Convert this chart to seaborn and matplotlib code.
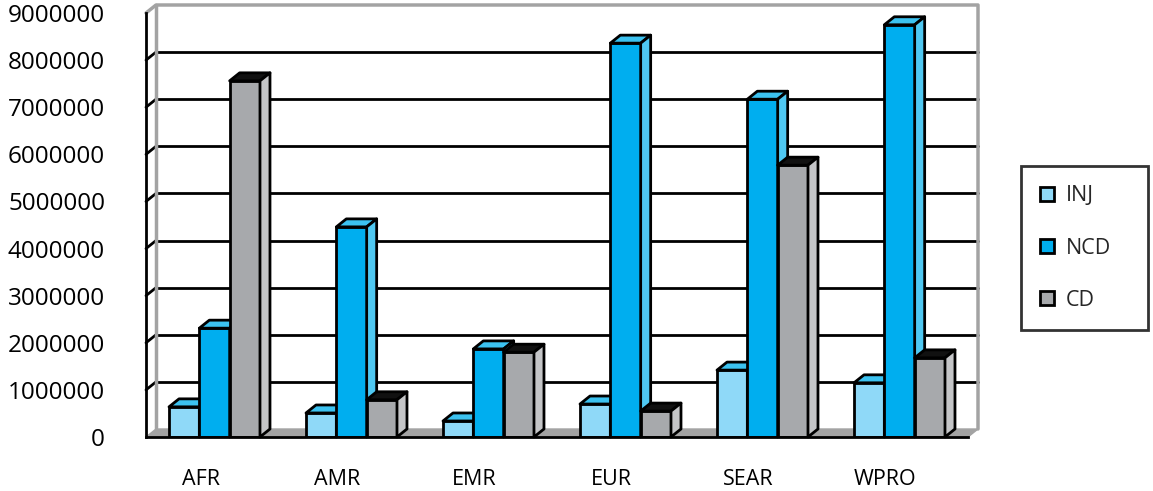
import matplotlib
matplotlib.use("Agg")
import matplotlib.pyplot as plt
import matplotlib.transforms as mtransforms
from matplotlib.patches import Patch, Polygon
import pandas as pd
import seaborn as sns


REGIONS = ["AFR", "AMR", "EMR", "EUR", "SEAR", "WPRO"]
SERIES = ["INJ", "NCD", "CD"]
INJ = [640000, 510000, 340000, 700000, 1420000, 1150000]
NCD = [2310000, 4460000, 1870000, 8360000, 7170000, 8750000]
CD = [7560000, 790000, 1800000, 550000, 5770000, 1680000]
Y_TICKS = list(range(0, 9000001, 1000000))

FRONT = {"INJ": "#8fd9f8", "NCD": "#00aeef", "CD": "#a7a9ac"}
TOP = {"INJ": "#3cc2f0", "NCD": "#3cc2f0", "CD": "#111111"}
SIDE = {"INJ": "#5ccdf4", "NCD": "#4fc8f2", "CD": "#c4c5c7"}
WALL = "#a3a3a3"
DEPTH_PX = (10, 8)  # 3d depth offset, right / up


def main() -> None:
    sns.set_style("white")
    plt.rcParams["font.family"] = ["Open Sans", "DejaVu Sans"]

    df = pd.DataFrame(
        {
            "region": REGIONS * 3,
            "cause": [s for s in SERIES for _ in REGIONS],
            "value": INJ + NCD + CD,
        }
    )

    fig = plt.figure(figsize=(11.53, 4.91), dpi=100)
    ax = fig.add_axes([146 / 1153, 1 - 437 / 491, 822 / 1153, 424 / 491])

    sns.barplot(
        data=df, x="region", y="value", hue="cause", hue_order=SERIES,
        palette=FRONT, width=0.664, saturation=1, edgecolor="black",
        linewidth=2, legend=False, ax=ax,
    )
    ax.set_xlim(-0.5, 5.5)
    ax.set_ylim(0, 9000000)

    # depth offset in data units
    p0 = ax.transData.transform((0, 0))
    p1 = ax.transData.transform((1, 1000000))
    ddx = DEPTH_PX[0] / (p1[0] - p0[0])
    ddy = DEPTH_PX[1] / (p1[1] - p0[1]) * 1000000

    # top and side faces of each bar
    for i, (name, container) in enumerate(zip(SERIES, ax.containers)):
        for bar in container:
            bar.set_zorder(4 + i)
            x0, x1 = bar.get_x(), bar.get_x() + bar.get_width()
            h = bar.get_height()
            top = Polygon(
                [(x0, h), (x0 + ddx, h + ddy), (x1 + ddx, h + ddy), (x1, h)],
                facecolor=TOP[name], edgecolor="black", linewidth=2,
                joinstyle="round", zorder=4 + i, clip_on=False,
            )
            side = Polygon(
                [(x1, 0), (x1, h), (x1 + ddx, h + ddy), (x1 + ddx, ddy)],
                facecolor=SIDE[name], edgecolor="black", linewidth=2,
                joinstyle="round", zorder=4 + i, clip_on=False,
            )
            ax.add_patch(top)
            ax.add_patch(side)

    # back wall, floor and gridlines
    xl, xr = -0.5, 5.5
    ax.add_patch(Polygon(
        [(xl, 0), (xr, 0), (xr + ddx, ddy), (xl + ddx, ddy)],
        facecolor=WALL, edgecolor=WALL, linewidth=1, zorder=1.5, clip_on=False,
    ))
    for y in Y_TICKS[1:-1]:
        ax.plot([xl + ddx, xr + ddx], [y + ddy, y + ddy], color="black", lw=2, zorder=1, clip_on=False)
        ax.plot([xl, xl + ddx], [y, y + ddy], color="black", lw=2, zorder=1, clip_on=False)
    ytop = Y_TICKS[-1]
    ax.plot([xl, xl + ddx, xr + ddx, xr + ddx], [ytop, ytop + ddy, ytop + ddy, ddy],
            color=WALL, lw=2.5, zorder=1, clip_on=False)
    ax.plot([xl + ddx, xl + ddx], [ddy, ytop + ddy], color=WALL, lw=2.5, zorder=1, clip_on=False)

    sns.despine(ax=ax)
    for side_name in ["left", "bottom"]:
        ax.spines[side_name].set_color("black")
        ax.spines[side_name].set_linewidth(2)
        ax.spines[side_name].set_zorder(10)

    ax.set_yticks(Y_TICKS)
    ax.set_yticklabels([str(v) for v in Y_TICKS])
    ax.tick_params(axis="y", length=6.5, width=2, color="black", pad=23, labelsize=17.5, labelcolor="black")

    ax.set_xticks(range(len(REGIONS)))
    ax.set_xticklabels(REGIONS)
    ax.set_xticks([i - 0.5 for i in range(len(REGIONS) + 1)], minor=True)
    ax.tick_params(axis="x", which="major", length=0, pad=23, labelsize=15.5, labelcolor="black")
    ax.tick_params(axis="x", which="minor", length=6, width=2, color="black", direction="out")
    shift = mtransforms.ScaledTranslation(-14 / 100, 0, fig.dpi_scale_trans)
    for lbl in ax.get_xticklabels():
        lbl.set_transform(lbl.get_transform() + shift)
    ax.set_xlabel("")
    ax.set_ylabel("")

    handles = [Patch(facecolor=FRONT[s], edgecolor="black", linewidth=2, label=s) for s in SERIES]
    leg = fig.legend(
        handles=handles, loc="upper left",
        bbox_to_anchor=(1021 / 1153, 1 - 324 / 491, 127 / 1153, 158 / 491),
        mode="expand", frameon=True, fancybox=False, edgecolor="black", fontsize=15.5,
        handlelength=0.65, handleheight=0.65, labelspacing=1.45, handletextpad=0.55,
        borderpad=0.9, borderaxespad=0,
    )
    leg.get_frame().set_linewidth(2)

    fig.savefig("out.png", dpi=100)
    plt.close(fig)


if __name__ == "__main__":
    main()
